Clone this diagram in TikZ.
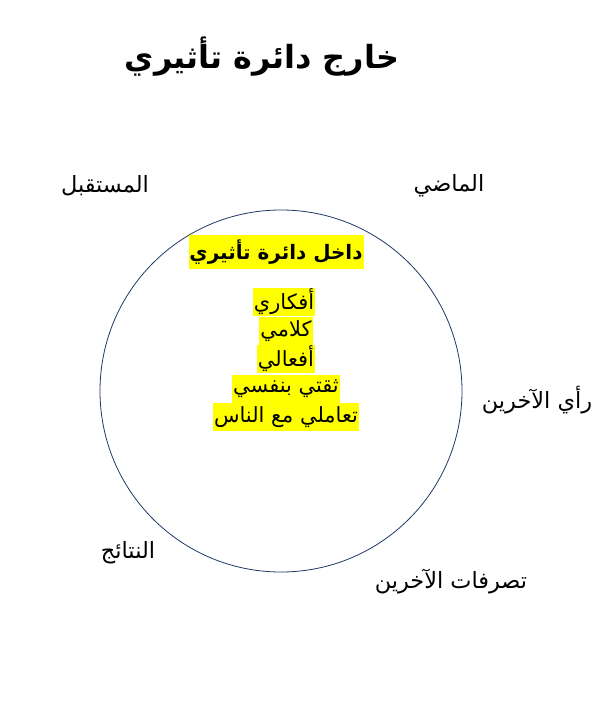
\documentclass[tikz,border=0pt]{standalone}
\usepackage{fontspec}
\TeXXeTstate=1
\newfontfamily\arabicfont[Script=Arabic]{DejaVu Sans}
\definecolor{ringcol}{HTML}{1F3864}
\definecolor{hl}{HTML}{FFFF00}
\tikzset{
  outer/.style={font=\arabicfont\fontsize{22.5}{26}\selectfont, inner sep=0pt},
  inner/.style={font=\arabicfont\fontsize{21}{24}\selectfont, fill=hl, inner xsep=1pt, inner ysep=0pt, minimum height=28bp},
  titlestyle/.style={font=\arabicfont\bfseries\fontsize{32}{38}\selectfont, inner sep=0pt},
  subtitle/.style={font=\arabicfont\bfseries\fontsize{20}{24}\selectfont, fill=hl, inner xsep=1pt, inner ysep=0pt, minimum height=34bp}
}
\begin{document}
\begin{tikzpicture}[x=1bp,y=-1bp]
\useasboundingbox (0,0) rectangle (595,720);
\node[circle, draw=ringcol, line width=0.8pt, minimum size=362bp, inner sep=0pt] (ring) at (281,391) {};
\node[titlestyle] (title) at (262,57) {\beginR خارج دائرة تأثيري\endR};
\node[outer] (future) at (105,186) {\beginR المستقبل\endR};
\node[outer] (past) at (449,186) {\beginR الماضي\endR};
\node[outer] (opinion) at (537,400) {\beginR رأي الآخرين\endR};
\node[outer] (results) at (128,553) {\beginR النتائج\endR};
\node[outer] (actions) at (451,582) {\beginR تصرفات الآخرين\endR};
\node[subtitle] (inside) at (276,252) {\beginR داخل دائرة تأثيري\endR};
\node[inner] (i1) at (284,302) {\beginR أفكاري\endR};
\node[inner] (i2) at (286,331) {\beginR كلامي\endR};
\node[inner] (i3) at (286,359) {\beginR أفعالي\endR};
\node[inner] (i4) at (286,389) {\beginR ثقتي بنفسي\endR};
\node[inner] (i5) at (286,417) {\beginR تعاملي مع الناس\endR};
\end{tikzpicture}
\end{document}
